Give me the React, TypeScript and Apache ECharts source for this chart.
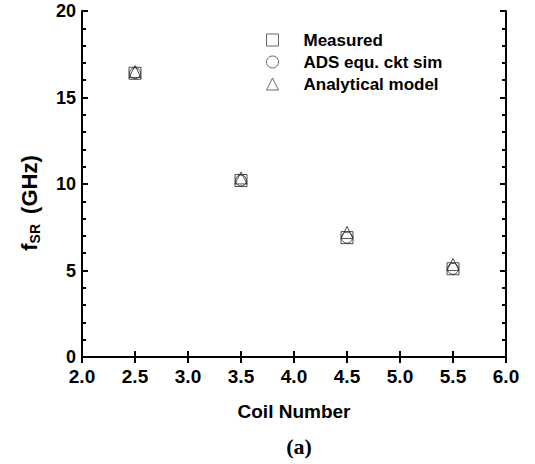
import React, { useEffect, useRef } from "react";
import * as echarts from "echarts";

const coilNumbers = [2.5, 3.5, 4.5, 5.5];
const measured = [16.4, 10.2, 6.9, 5.1];
const adsSim = [16.4, 10.2, 6.9, 5.1];
const analytical = [16.5, 10.35, 7.2, 5.35];
const seriesNames = ["Measured", "ADS equ. ckt sim", "Analytical model"];

const pairs = (ys: number[]) => coilNumbers.map((x, i) => [x, ys[i]]);

export default function App() {
  const ref = useRef<HTMLDivElement>(null);
  useEffect(() => {
    if (!ref.current) return;
    const chart = echarts.init(ref.current, null, { renderer: "svg" });
    const font = "Liberation Sans, Arial, sans-serif";
    const axisLine = { show: true, lineStyle: { color: "#000", width: 2 } };
    const hollow = {
      color: "rgba(0,0,0,0)",
      borderColor: "#222",
      borderWidth: 1,
    };
    const tick = { inside: true, length: 6, lineStyle: { width: 2, color: "#000" } };
    const minor = { show: true, splitNumber: 5, length: 4, lineStyle: { width: 2, color: "#000" } };
    chart.setOption({
      animation: false,
      backgroundColor: "#fff",
      grid: { left: 82, right: 29, top: 11, bottom: 107 },
      title: {
        text: "(a)",
        left: 294,
        top: 430,
        textAlign: "center",
        textStyle: {
          fontFamily: "Liberation Serif, Times New Roman, serif",
          fontWeight: "bold",
          fontSize: 22,
          color: "#000",
        },
      },
      graphic: [
        {
          type: "text",
          x: 29,
          y: 203,
          rotation: Math.PI / 2,
          style: {
            text: "{f|f}{sub|SR}{gap| }{f|(GHz)}",
            align: "center",
            verticalAlign: "middle",
            rich: {
              f: { fontFamily: font, fontWeight: "bold", fontSize: 22, fill: "#000", color: "#000" },
              sub: {
                fontFamily: font,
                fontWeight: "bold",
                fontSize: 14,
                fill: "#000",
                color: "#000",
                padding: [11, 0, 0, 0],
              },
              gap: { fontSize: 14, width: 10 },
            },
          },
        },
      ],
      legend: {
        orient: "vertical",
        left: 266,
        top: 31,
        padding: 0,
        itemWidth: 12,
        itemHeight: 12,
        itemGap: 4,
        data: [
          { name: seriesNames[0], icon: "rect" },
          { name: seriesNames[1], icon: "circle" },
          { name: seriesNames[2], icon: "triangle" },
        ],
        itemStyle: { color: "rgba(0,0,0,0)", borderColor: "#444", borderWidth: 1 },
        textStyle: {
          fontFamily: font,
          fontWeight: "bold",
          fontSize: 17,
          lineHeight: 18,
          color: "#000",
          padding: [0, 0, 0, 20],
        },
      },
      xAxis: [
        {
          type: "value",
          min: 2,
          max: 6,
          interval: 0.5,
          axisLine,
          splitLine: { show: false },
          axisTick: tick,
          axisLabel: {
            margin: 10,
            formatter: (v: number) => v.toFixed(1),
            fontFamily: font,
            fontWeight: "bold",
            fontSize: 19,
            color: "#000",
          },
          name: "Coil Number",
          nameLocation: "middle",
          nameGap: 45,
          nameTextStyle: { fontFamily: font, fontWeight: "bold", fontSize: 19, color: "#000" },
        },
        {
          type: "value",
          position: "top",
          min: 2,
          max: 6,
          interval: 0.5,
          axisLine,
          splitLine: { show: false },
          axisTick: tick,
          axisLabel: { show: false },
        },
      ],
      yAxis: [
        {
          type: "value",
          min: 0,
          max: 20,
          interval: 5,
          axisLine,
          splitLine: { show: false },
          axisTick: tick,
          minorTick: minor,
          axisLabel: {
            margin: 6,
            fontFamily: font,
            fontWeight: "bold",
            fontSize: 18,
            lineHeight: 16,
            color: "#000",
          },
        },
        {
          type: "value",
          position: "right",
          min: 0,
          max: 20,
          interval: 5,
          axisLine,
          splitLine: { show: false },
          axisTick: tick,
          minorTick: minor,
          axisLabel: { show: false },
        },
      ],
      series: [
        {
          name: seriesNames[0],
          type: "scatter",
          symbol: "rect",
          symbolSize: 12,
          data: pairs(measured),
          itemStyle: hollow,
        },
        {
          name: seriesNames[1],
          type: "scatter",
          symbol: "circle",
          symbolSize: 11,
          data: pairs(adsSim),
          itemStyle: hollow,
        },
        {
          name: seriesNames[2],
          type: "scatter",
          symbol: "triangle",
          symbolSize: 12,
          data: pairs(analytical),
          itemStyle: hollow,
        },
      ],
    });
    return () => chart.dispose();
  }, []);
  return (
    <div
      ref={ref}
      style={{ position: "absolute", left: 0, top: 0, width: 535, height: 464 }}
    />
  );
}
